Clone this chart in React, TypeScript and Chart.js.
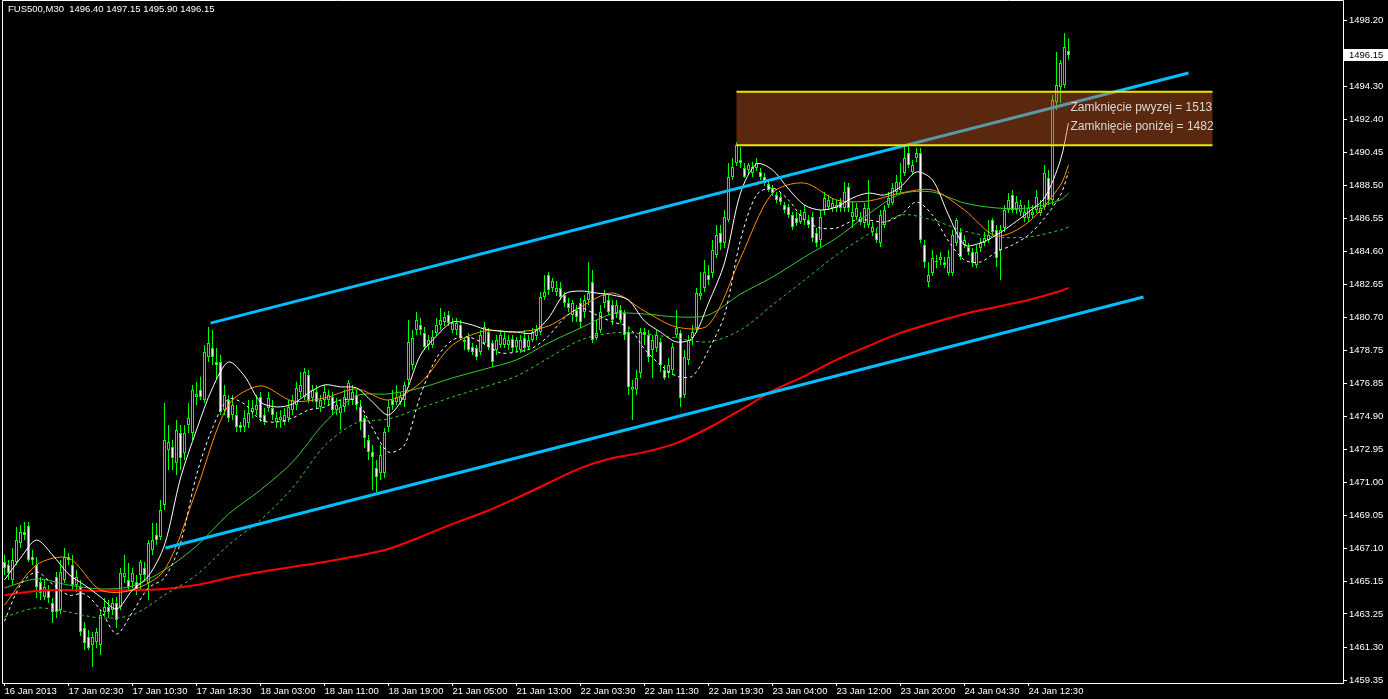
import React, { useEffect, useRef } from "react";
import { Chart, registerables } from "chart.js";

Chart.register(...registerables);

const chartTitle = "FUS500,M30  1496.40 1497.15 1495.90 1496.15";
const FONT = "'Liberation Sans', Arial, sans-serif";

// ---- 30-minute candles (bar index 0 .. 266) ----
const openPrices = [
  1466.31, 1466.13, 1465.25, 1466.31, 1467.43, 1468.08, 1468.43, 1466.60, 1466.13, 1465.13,
  1464.25, 1464.66, 1463.89, 1465.42, 1463.48, 1465.25, 1466.60, 1466.13, 1464.95, 1464.84,
  1462.42, 1461.89, 1461.42, 1461.60, 1461.42, 1463.36, 1463.66, 1463.48, 1463.89, 1463.66,
  1465.42, 1465.25, 1465.13, 1465.13, 1465.54, 1465.95, 1465.07, 1467.01, 1467.90, 1467.78,
  1469.66, 1472.90, 1473.08, 1472.13, 1473.90, 1472.72, 1474.38, 1473.90, 1476.03, 1476.45,
  1475.85, 1478.38, 1478.91, 1478.09, 1478.09, 1475.26, 1475.85, 1474.97, 1474.97, 1474.38,
  1474.26, 1474.50, 1475.14, 1475.26, 1476.03, 1474.97, 1475.38, 1475.38, 1474.55, 1474.67,
  1474.55, 1474.79, 1475.26, 1475.56, 1476.32, 1476.03, 1477.32, 1475.97, 1476.32, 1475.44,
  1475.85, 1475.85, 1476.03, 1475.26, 1475.08, 1475.44, 1475.85, 1475.85, 1476.14, 1475.44,
  1474.79, 1473.49, 1472.78, 1471.84, 1471.55, 1471.55, 1474.26, 1475.85, 1475.73, 1475.73,
  1475.85, 1477.03, 1477.91, 1479.97, 1480.27, 1479.80, 1479.09, 1479.09, 1479.80, 1480.27,
  1480.44, 1480.86, 1479.97, 1479.97, 1480.27, 1479.38, 1479.56, 1478.97, 1478.91, 1478.68,
  1479.21, 1479.85, 1479.21, 1478.80, 1479.09, 1479.09, 1479.09, 1479.44, 1478.97, 1478.80,
  1479.50, 1478.97, 1479.38, 1479.62, 1479.85, 1481.92, 1483.21, 1482.45, 1482.21, 1482.45,
  1482.03, 1481.56, 1480.86, 1481.15, 1481.56, 1481.03, 1481.74, 1482.80, 1479.50, 1479.97,
  1481.56, 1481.74, 1481.45, 1480.97, 1481.15, 1480.97, 1479.85, 1476.45, 1476.45, 1477.44,
  1479.85, 1479.68, 1478.80, 1478.91, 1479.27, 1477.62, 1477.44, 1477.62, 1479.68, 1479.80,
  1476.14, 1478.21, 1479.50, 1480.09, 1481.97, 1482.45, 1483.21, 1483.33, 1484.39, 1485.69,
  1485.10, 1486.45, 1488.99, 1489.81, 1489.99, 1489.51, 1489.40, 1489.22, 1489.51, 1489.28,
  1488.99, 1488.57, 1488.34, 1487.92, 1487.81, 1487.33, 1487.22, 1486.74, 1486.57, 1486.33,
  1486.45, 1486.45, 1486.63, 1485.69, 1485.27, 1487.04, 1487.22, 1487.16, 1487.16, 1487.51,
  1487.16, 1488.40, 1486.63, 1486.63, 1486.33, 1486.27, 1486.16, 1485.75, 1485.69, 1485.10,
  1486.16, 1487.33, 1487.45, 1488.10, 1488.22, 1489.22, 1490.40, 1489.28, 1490.10, 1490.40,
  1484.98, 1482.80, 1483.33, 1484.04, 1484.10, 1483.97, 1483.33, 1483.33, 1485.10, 1485.75,
  1484.98, 1484.86, 1484.57, 1483.80, 1484.80, 1485.10, 1485.27, 1486.45, 1485.86, 1484.68,
  1485.98, 1487.04, 1487.92, 1487.04, 1486.92, 1486.57, 1486.57, 1486.74, 1487.04, 1486.86,
  1487.22, 1488.93, 1487.63, 1493.40, 1494.29, 1494.40, 1496.40,
];
const highPrices = [
  1466.72, 1466.43, 1467.13, 1468.37, 1468.49, 1468.66, 1468.66, 1467.01, 1466.60, 1465.42,
  1465.25, 1464.95, 1464.19, 1465.72, 1466.43, 1467.13, 1466.84, 1466.72, 1465.84, 1465.25,
  1462.78, 1462.30, 1462.19, 1462.42, 1463.48, 1464.19, 1464.07, 1464.19, 1464.25, 1465.95,
  1466.72, 1466.25, 1465.95, 1465.54, 1466.43, 1466.31, 1467.60, 1468.61, 1468.61, 1469.96,
  1475.67, 1474.38, 1473.49, 1474.67, 1474.38, 1474.38, 1475.67, 1476.75, 1476.92, 1477.22,
  1479.09, 1480.15, 1479.97, 1478.91, 1478.50, 1476.74, 1476.14, 1476.14, 1475.56, 1474.55,
  1475.26, 1475.85, 1475.85, 1476.14, 1476.32, 1475.38, 1476.32, 1475.85, 1475.14, 1475.26,
  1475.38, 1475.85, 1476.14, 1476.92, 1477.50, 1477.74, 1477.62, 1476.74, 1476.74, 1476.14,
  1476.74, 1476.45, 1476.32, 1475.97, 1475.85, 1476.45, 1477.03, 1476.74, 1476.45, 1475.85,
  1474.97, 1473.79, 1473.20, 1472.31, 1473.20, 1474.20, 1475.85, 1476.45, 1476.74, 1476.32,
  1476.92, 1480.56, 1479.97, 1481.03, 1480.68, 1480.15, 1479.68, 1479.97, 1480.68, 1481.27,
  1481.03, 1481.09, 1480.68, 1480.68, 1480.56, 1479.56, 1479.80, 1479.21, 1479.09, 1479.97,
  1480.44, 1480.09, 1479.38, 1479.68, 1479.97, 1479.85, 1479.68, 1479.68, 1479.56, 1479.68,
  1479.97, 1479.68, 1480.09, 1480.27, 1482.21, 1483.21, 1483.38, 1483.03, 1482.86, 1482.80,
  1482.21, 1481.86, 1481.74, 1481.45, 1481.86, 1482.03, 1483.97, 1483.50, 1480.56, 1481.45,
  1482.33, 1482.03, 1481.74, 1481.74, 1481.45, 1481.15, 1480.09, 1477.03, 1477.62, 1480.09,
  1480.09, 1479.97, 1479.68, 1479.97, 1479.50, 1477.91, 1478.32, 1479.21, 1481.15, 1479.97,
  1478.80, 1479.68, 1480.27, 1482.45, 1483.38, 1484.10, 1483.80, 1485.27, 1486.16, 1486.16,
  1487.04, 1489.81, 1490.10, 1491.05, 1490.75, 1489.81, 1489.81, 1489.87, 1490.10, 1489.51,
  1489.22, 1488.81, 1488.51, 1488.10, 1488.04, 1487.51, 1487.39, 1486.92, 1486.92, 1487.04,
  1487.33, 1486.74, 1486.92, 1485.98, 1487.04, 1488.10, 1487.92, 1487.75, 1487.63, 1487.75,
  1488.69, 1488.63, 1487.51, 1487.45, 1486.92, 1487.45, 1488.81, 1486.33, 1485.98, 1487.04,
  1487.33, 1488.10, 1488.63, 1489.10, 1489.81, 1490.87, 1490.87, 1489.99, 1490.69, 1490.69,
  1485.27, 1483.97, 1484.68, 1484.39, 1484.57, 1484.27, 1484.68, 1485.86, 1486.57, 1485.98,
  1485.57, 1485.10, 1484.80, 1484.98, 1485.39, 1485.75, 1486.45, 1486.57, 1486.16, 1486.16,
  1487.33, 1488.04, 1488.22, 1487.86, 1487.63, 1487.33, 1487.63, 1487.33, 1488.22, 1487.63,
  1489.69, 1489.40, 1493.81, 1496.35, 1495.88, 1497.47, 1497.15,
];
const lowPrices = [
  1465.54, 1465.25, 1464.95, 1466.13, 1467.13, 1467.60, 1466.31, 1466.13, 1464.19, 1464.07,
  1464.07, 1463.89, 1462.72, 1463.01, 1463.25, 1465.07, 1466.13, 1464.66, 1464.54, 1461.95,
  1461.12, 1461.12, 1460.12, 1461.24, 1460.83, 1463.19, 1463.01, 1463.19, 1462.42, 1463.48,
  1465.07, 1464.66, 1464.78, 1464.36, 1464.66, 1465.25, 1464.07, 1466.72, 1467.31, 1467.60,
  1469.37, 1471.72, 1471.72, 1471.43, 1471.72, 1472.31, 1473.90, 1473.49, 1475.56, 1475.85,
  1475.67, 1478.09, 1477.91, 1477.03, 1474.97, 1474.97, 1474.55, 1474.67, 1473.96, 1473.96,
  1473.96, 1474.20, 1474.79, 1474.97, 1474.55, 1474.38, 1475.14, 1474.67, 1474.20, 1474.20,
  1474.38, 1474.55, 1474.97, 1475.26, 1475.97, 1475.85, 1475.67, 1475.73, 1475.38, 1475.14,
  1475.56, 1475.56, 1474.97, 1474.97, 1474.08, 1475.14, 1475.56, 1475.56, 1475.26, 1474.08,
  1473.02, 1472.31, 1470.55, 1470.43, 1471.13, 1471.25, 1473.96, 1475.26, 1475.56, 1475.56,
  1475.44, 1476.74, 1477.62, 1479.68, 1479.68, 1478.80, 1478.80, 1478.91, 1479.62, 1479.97,
  1480.21, 1480.21, 1479.80, 1479.68, 1479.38, 1478.80, 1478.68, 1478.50, 1478.21, 1478.50,
  1479.09, 1478.80, 1477.79, 1478.50, 1478.91, 1478.91, 1478.80, 1478.68, 1478.68, 1478.62,
  1478.68, 1478.80, 1479.27, 1479.38, 1479.68, 1481.74, 1482.03, 1482.21, 1481.97, 1481.74,
  1481.33, 1481.03, 1480.44, 1480.44, 1480.09, 1480.68, 1481.45, 1479.21, 1479.38, 1479.80,
  1481.27, 1480.86, 1480.27, 1480.68, 1480.38, 1479.38, 1476.14, 1474.67, 1476.14, 1477.15,
  1479.09, 1478.09, 1477.15, 1478.68, 1477.50, 1477.03, 1477.15, 1477.32, 1479.50, 1475.44,
  1475.97, 1477.91, 1479.09, 1479.85, 1481.74, 1482.21, 1482.62, 1483.03, 1484.21, 1484.68,
  1484.80, 1486.33, 1488.81, 1489.63, 1489.51, 1488.93, 1489.10, 1488.99, 1489.34, 1488.81,
  1488.46, 1488.10, 1487.87, 1487.45, 1487.33, 1486.86, 1486.57, 1485.86, 1486.10, 1486.21,
  1486.16, 1485.98, 1485.16, 1484.86, 1484.80, 1486.74, 1487.04, 1486.92, 1486.92, 1486.92,
  1486.92, 1486.92, 1485.98, 1486.45, 1486.16, 1485.98, 1485.98, 1485.51, 1485.10, 1484.86,
  1485.98, 1487.16, 1487.33, 1487.92, 1488.04, 1489.04, 1489.51, 1489.10, 1489.87, 1485.10,
  1483.62, 1482.50, 1483.15, 1483.62, 1483.80, 1483.62, 1483.15, 1483.15, 1484.92, 1484.10,
  1484.80, 1484.39, 1483.68, 1483.62, 1484.57, 1484.92, 1485.10, 1485.51, 1483.68, 1482.92,
  1485.75, 1486.86, 1486.86, 1486.80, 1486.69, 1486.33, 1486.33, 1486.57, 1486.86, 1486.69,
  1487.04, 1487.33, 1487.33, 1492.93, 1493.34, 1494.22, 1495.90,
];
const closePrices = [
  1465.95, 1465.66, 1466.43, 1467.60, 1468.08, 1467.90, 1466.43, 1466.43, 1464.84, 1464.48,
  1464.84, 1464.19, 1463.36, 1463.36, 1465.72, 1466.60, 1466.43, 1464.95, 1465.42, 1462.19,
  1461.54, 1461.24, 1461.89, 1462.19, 1463.19, 1463.66, 1463.36, 1463.89, 1462.89, 1465.66,
  1465.66, 1464.84, 1465.66, 1464.66, 1466.31, 1465.54, 1467.43, 1467.60, 1467.60, 1469.37,
  1473.49, 1473.37, 1472.43, 1474.08, 1472.43, 1473.90, 1474.79, 1476.45, 1476.21, 1476.03,
  1478.68, 1479.21, 1478.38, 1477.91, 1475.14, 1476.14, 1474.79, 1475.56, 1474.26, 1474.20,
  1474.79, 1475.08, 1475.38, 1475.56, 1474.79, 1474.55, 1475.97, 1474.97, 1474.79, 1474.85,
  1474.97, 1475.44, 1475.85, 1476.56, 1476.74, 1477.50, 1475.85, 1476.45, 1475.73, 1475.85,
  1476.32, 1476.14, 1475.26, 1475.56, 1475.44, 1476.03, 1476.86, 1476.32, 1475.56, 1474.55,
  1473.61, 1472.78, 1472.49, 1471.31, 1472.61, 1473.96, 1475.44, 1475.56, 1476.03, 1476.03,
  1476.74, 1479.27, 1479.50, 1480.56, 1479.97, 1478.97, 1479.38, 1479.56, 1480.27, 1480.56,
  1480.74, 1480.38, 1480.38, 1480.38, 1479.50, 1479.27, 1478.80, 1478.68, 1478.38, 1479.68,
  1480.15, 1478.97, 1478.09, 1479.38, 1479.68, 1479.50, 1479.38, 1478.91, 1479.38, 1479.38,
  1478.91, 1479.38, 1479.85, 1479.97, 1481.92, 1482.21, 1482.33, 1482.86, 1482.45, 1481.92,
  1481.56, 1481.27, 1481.56, 1480.74, 1480.44, 1481.74, 1482.15, 1479.38, 1479.80, 1481.03,
  1482.03, 1481.03, 1480.56, 1481.45, 1480.56, 1479.68, 1476.62, 1476.62, 1477.15, 1479.85,
  1479.68, 1478.38, 1479.38, 1479.68, 1477.91, 1477.15, 1477.91, 1478.97, 1480.09, 1475.97,
  1478.38, 1479.38, 1479.85, 1482.15, 1482.15, 1483.38, 1482.92, 1484.68, 1485.57, 1485.10,
  1486.63, 1488.99, 1489.57, 1490.87, 1489.81, 1488.99, 1489.69, 1489.57, 1489.81, 1488.99,
  1488.63, 1488.22, 1488.04, 1487.63, 1487.51, 1487.04, 1486.74, 1486.04, 1486.27, 1486.74,
  1486.92, 1486.16, 1485.39, 1485.10, 1486.63, 1487.75, 1487.63, 1487.45, 1487.33, 1487.16,
  1488.10, 1487.16, 1486.92, 1487.16, 1486.63, 1487.16, 1487.16, 1486.04, 1485.27, 1486.74,
  1487.04, 1487.75, 1488.34, 1488.69, 1488.69, 1490.10, 1489.69, 1489.69, 1490.40, 1485.27,
  1483.97, 1483.21, 1484.21, 1483.97, 1484.27, 1483.80, 1484.27, 1485.57, 1486.45, 1484.27,
  1485.27, 1484.57, 1483.92, 1484.57, 1485.10, 1485.39, 1485.57, 1485.75, 1484.21, 1485.86,
  1487.04, 1487.63, 1487.04, 1487.51, 1487.33, 1486.92, 1487.16, 1486.92, 1487.81, 1487.16,
  1489.22, 1487.63, 1493.52, 1494.40, 1495.70, 1496.64, 1496.15,
];

// ---- axis labels ----
const xTickBars = [0, 16, 32, 48, 64, 80, 96, 112, 128, 144, 160, 176, 192, 208, 224, 240, 256];
const xTickLabels = [
  "16 Jan 2013", "17 Jan 02:30", "17 Jan 10:30", "17 Jan 18:30", "18 Jan 03:00", "18 Jan 11:00",
  "18 Jan 19:00", "21 Jan 05:00", "21 Jan 13:00", "22 Jan 03:30", "22 Jan 11:30", "22 Jan 19:30",
  "23 Jan 04:00", "23 Jan 12:00", "23 Jan 20:00", "24 Jan 04:30", "24 Jan 12:30",
];
const yTickValues = [
  1459.35, 1461.3, 1463.25, 1465.15, 1467.1, 1469.05, 1471.0, 1472.95, 1474.9, 1476.85,
  1478.75, 1480.7, 1482.65, 1484.6, 1486.55, 1488.5, 1490.45, 1492.4, 1494.3, 1498.2,
];

// ---- moving averages ----
const maFastBars = [
  0, 4, 8, 12, 16, 20, 24, 28, 32, 36, 40, 44, 48, 52, 56, 60, 64, 68, 72, 76, 80, 84, 88, 92,
  96, 100, 104, 108, 112, 116, 120, 124, 128, 132, 136, 140, 144, 148, 152, 156, 160, 164, 168,
  172, 176, 180, 184, 188, 192, 196, 200, 204, 208, 212, 216, 220, 224, 228, 232, 236, 240, 244,
  248, 252, 256, 260, 264, 266,
];
const whiteSolidMA = [
  1465.25, 1466.54, 1467.6, 1466.72, 1465.6, 1464.95, 1464.25, 1463.54, 1464.66, 1465.48,
  1467.31, 1471.25, 1474.08, 1476.56, 1478.09, 1477.26, 1475.73, 1475.44, 1475.61, 1476.26,
  1476.74, 1476.62, 1476.56, 1475.73, 1474.97, 1476.14, 1478.5, 1479.62, 1480.44, 1480.33,
  1480.03, 1479.91, 1479.85, 1479.8, 1480.68, 1482.09, 1482.27, 1482.15, 1482.03, 1481.74,
  1480.5, 1479.85, 1479.27, 1479.5, 1481.56, 1483.92, 1488.04, 1489.75, 1489.4, 1488.28,
  1487.33, 1487.04, 1487.22, 1487.75, 1488.04, 1487.92, 1488.4, 1489.28, 1488.81, 1486.74,
  1484.98, 1485.1, 1485.57, 1486.21, 1486.92, 1487.75, 1489.99, 1492.17,
];
const whiteDashedMA = [
  1462.83, 1464.95, 1465.72, 1465.01, 1464.36, 1464.42, 1463.48, 1462.07, 1463.36, 1464.78,
  1465.37, 1467.43, 1471.43, 1474.2, 1475.91, 1475.61, 1474.67, 1474.55, 1474.79, 1475.26,
  1475.44, 1475.85, 1475.79, 1474.2, 1472.78, 1473.2, 1476.14, 1478.32, 1479.38, 1479.56,
  1479.15, 1478.62, 1478.68, 1478.91, 1479.62, 1480.68, 1481.27, 1480.86, 1480.44, 1480.15,
  1478.85, 1477.91, 1477.26, 1477.26, 1478.79, 1480.86, 1485.27, 1487.92, 1488.34, 1487.63,
  1486.45, 1485.98, 1485.98, 1486.39, 1486.45, 1486.33, 1486.74, 1487.51, 1486.74, 1485.21,
  1484.09, 1483.98, 1484.57, 1484.98, 1485.57, 1486.57, 1487.92, 1489.28,
];
const maSlowBars = [
  0, 8, 16, 24, 32, 40, 48, 56, 64, 72, 80, 88, 96, 104, 112, 120, 128, 136, 144, 152, 160,
  168, 176, 184, 192, 200, 208, 216, 224, 232, 240, 248, 256, 264, 266,
];
const orangeMA = [
  1463.77, 1466.13, 1466.54, 1464.66, 1464.66, 1465.84, 1470.55, 1475.56, 1476.68, 1475.79,
  1475.97, 1476.5, 1475.85, 1476.86, 1479.09, 1479.91, 1479.85, 1480.21, 1481.33, 1482.15,
  1481.09, 1480.15, 1480.27, 1484.21, 1488.04, 1488.63, 1487.63, 1487.57, 1488.04, 1488.22,
  1487.04, 1485.51, 1486.33, 1488.51, 1489.69,
];
const greenMA = [
  1464.78, 1465.31, 1464.95, 1464.72, 1464.89, 1465.84, 1467.25, 1469.13, 1470.55, 1472.19,
  1474.5, 1476.09, 1476.21, 1476.56, 1477.15, 1477.67, 1478.21, 1479.21, 1480.09, 1480.92,
  1480.92, 1480.74, 1480.86, 1482.09, 1483.09, 1484.27, 1485.39, 1486.8, 1487.98, 1488.1,
  1487.45, 1487.16, 1487.16, 1487.63, 1488.04,
];
const greenDashedMA = [
  1463.07, 1463.6, 1463.36, 1463.01, 1463.19, 1464.36, 1465.54, 1467.31, 1468.78, 1470.67,
  1473.14, 1474.5, 1474.73, 1475.38, 1476.03, 1476.62, 1477.26, 1478.32, 1479.38, 1479.8,
  1479.74, 1479.5, 1479.27, 1479.97, 1481.45, 1482.92, 1484.39, 1485.63, 1486.74, 1486.45,
  1485.8, 1485.45, 1485.45, 1485.86, 1486.04,
];
const redMA = [
  1464.36, 1464.6, 1464.66, 1464.6, 1464.66, 1464.72, 1464.95, 1465.37, 1465.72, 1466.02,
  1466.31, 1466.66, 1467.07, 1467.78, 1468.55, 1469.25, 1470.07, 1470.96, 1471.84, 1472.43,
  1472.78, 1473.31, 1474.2, 1475.26, 1476.38, 1477.26, 1478.21, 1479.03, 1479.8, 1480.38,
  1480.92, 1481.33, 1481.74, 1482.27, 1482.45,
];

// ---- drawn objects ----
const upperChannelBars = [51.5, 296];
const upperChannelPrices = [1480.38, 1495.11];
const lowerChannelBars = [40.25, 284.75];
const lowerChannelPrices = [1467.13, 1481.92];
const zoneBars = [183, 302];
const zonePrices = [1490.85, 1494.0];
const zoneTextBar = 266.5;
const zoneTextPrices = [1493.05, 1491.93];
const zoneTexts = ["Zamknięcie pwyzej = 1513", "Zamknięcie poniżej = 1482"];
const lastPrice = 1496.15;

const pts = (bars: number[], vals: number[]) => bars.map((b, k) => ({ x: b, y: vals[k] }));

const mtPlugin = {
  id: "mtPlugin",
  beforeDraw(chart: any) {
    const ctx = chart.ctx;
    ctx.save();
    ctx.fillStyle = "#000000";
    ctx.fillRect(0, 0, chart.width, chart.height);
    ctx.restore();
  },
  afterDatasetsDraw(chart: any) {
    const { ctx, chartArea, scales } = chart;
    const xs = scales.x;
    const ys = scales.y;
    ctx.save();
    ctx.beginPath();
    ctx.rect(chartArea.left, chartArea.top, chartArea.right - chartArea.left, chartArea.bottom - chartArea.top);
    ctx.clip();
    const x0 = xs.getPixelForValue(zoneBars[0]);
    const x1 = xs.getPixelForValue(zoneBars[1]);
    const yTop = ys.getPixelForValue(zonePrices[1]);
    const yBot = ys.getPixelForValue(zonePrices[0]);
    ctx.fillStyle = "rgba(219,97,37,0.41)";
    ctx.fillRect(x0, yTop, x1 - x0, yBot - yTop);
    ctx.strokeStyle = "#e8e800";
    ctx.lineWidth = 2;
    ctx.beginPath();
    ctx.moveTo(x0, yTop);
    ctx.lineTo(x1, yTop);
    ctx.moveTo(x0, yBot);
    ctx.lineTo(x1, yBot);
    ctx.stroke();
    ctx.fillStyle = "#dcd6d2";
    ctx.font = "12px " + FONT;
    ctx.textAlign = "left";
    ctx.textBaseline = "middle";
    const tx = xs.getPixelForValue(zoneTextBar);
    zoneTexts.forEach((t, k) => ctx.fillText(t, tx, ys.getPixelForValue(zoneTextPrices[k])));
    ctx.restore();
  },
  afterDraw(chart: any) {
    const { ctx, chartArea, scales } = chart;
    ctx.save();
    // frame
    ctx.strokeStyle = "#ffffff";
    ctx.lineWidth = 1;
    const l = chartArea.left - 0.5;
    const r = chartArea.right + 0.5;
    const t = chartArea.top + 0.5;
    const b = chartArea.bottom + 0.5;
    ctx.beginPath();
    ctx.moveTo(l, t);
    ctx.lineTo(r, t);
    ctx.lineTo(r, b);
    ctx.lineTo(l, b);
    ctx.closePath();
    ctx.stroke();
    // title
    ctx.fillStyle = "#ffffff";
    ctx.font = "9.5px " + FONT;
    ctx.textAlign = "left";
    ctx.textBaseline = "middle";
    ctx.fillText(chartTitle, 8, 9);
    // current price label
    const py = Math.round(scales.y.getPixelForValue(lastPrice));
    ctx.fillStyle = "#ffffff";
    ctx.fillRect(chartArea.right + 1, py - 6, chart.width - chartArea.right - 1, 12);
    ctx.fillStyle = "#000000";
    ctx.fillText(lastPrice.toFixed(2), chartArea.right + 6, py + 0.5);
    ctx.restore();
  },
};

export default function App() {
  const canvasRef = useRef<HTMLCanvasElement | null>(null);

  useEffect(() => {
    document.body.style.margin = "0";
    document.body.style.background = "#000";
    const canvas = canvasRef.current;
    if (!canvas) return;

    const wickData = highPrices.map((h, i) => ({ x: i, y: [lowPrices[i], h] }));
    const bodyData = openPrices.map((o, i) => ({ x: i, y: [o, closePrices[i]] }));
    const bodyFill = openPrices.map((o, i) => (closePrices[i] < o ? "#ffffff" : "#000000"));

    const lineBase = { type: "line" as const, pointRadius: 0, borderWidth: 1, tension: 0.3, fill: false };

    const chart = new Chart(canvas, {
      type: "bar",
      data: {
        datasets: [
          { ...lineBase, label: "upper channel", data: pts(upperChannelBars, upperChannelPrices), borderColor: "#00bfff", borderWidth: 3, tension: 0, order: 0 },
          { ...lineBase, label: "lower channel", data: pts(lowerChannelBars, lowerChannelPrices), borderColor: "#00bfff", borderWidth: 3, tension: 0, order: 0 },
          { ...lineBase, label: "MA white", data: pts(maFastBars, whiteSolidMA), borderColor: "#ffffff", order: 1 },
          { ...lineBase, label: "MA white dashed", data: pts(maFastBars, whiteDashedMA), borderColor: "#ffffff", borderDash: [3, 3], order: 1 },
          { ...lineBase, label: "MA orange", data: pts(maSlowBars, orangeMA), borderColor: "#ff8c00", order: 1 },
          { ...lineBase, label: "MA green", data: pts(maSlowBars, greenMA), borderColor: "#32cd32", order: 1 },
          { ...lineBase, label: "MA green dashed", data: pts(maSlowBars, greenDashedMA), borderColor: "#32cd32", borderDash: [3, 3], order: 1 },
          { ...lineBase, label: "MA red", data: pts(maSlowBars, redMA), borderColor: "#ff0000", borderWidth: 2, order: 1 },
          {
            type: "bar", label: "bodies", data: bodyData as any, backgroundColor: bodyFill, borderColor: "#00ff00",
            borderWidth: 1, borderSkipped: false, barThickness: 3, grouped: false, inflateAmount: 0, order: 2,
          } as any,
          {
            type: "bar", label: "wicks", data: wickData as any, backgroundColor: "#00ff00", borderWidth: 0,
            barThickness: 1, grouped: false, inflateAmount: 0, order: 3,
          } as any,
        ],
      },
      options: {
        responsive: false,
        animation: false,
        devicePixelRatio: 1,
        events: [],
        layout: { padding: { left: 3, top: 0, right: 0, bottom: 0 } },
        plugins: { legend: { display: false }, tooltip: { enabled: false }, title: { display: false } },
        scales: {
          x: {
            type: "linear",
            min: -0.375,
            max: 334.625,
            offset: false,
            bounds: "data",
            grid: { display: true, drawOnChartArea: false, drawTicks: true, tickLength: 3, color: "#ffffff", offset: false },
            border: { display: false },
            ticks: {
              color: "#ffffff",
              font: { family: FONT, size: 9.5 },
              padding: 0,
              align: "start",
              autoSkip: false,
              maxRotation: 0,
              minRotation: 0,
              callback: (v: any) => {
                const k = xTickBars.indexOf(Number(v));
                return k >= 0 ? xTickLabels[k] : "";
              },
            },
            afterBuildTicks: (s: any) => {
              s.ticks = xTickBars.map((v) => ({ value: v }));
            },
            afterFit: (s: any) => {
              s.height = 16;
              s.paddingLeft = 0;
              s.paddingRight = 0;
              s.paddingTop = 0;
              s.paddingBottom = 0;
            },
          },
          y: {
            type: "linear",
            position: "right",
            min: 1459.18,
            max: 1499.41,
            beginAtZero: false,
            bounds: "data",
            grid: { display: true, drawOnChartArea: false, drawTicks: true, tickLength: 4, color: "#ffffff" },
            border: { display: false },
            ticks: {
              color: "#ffffff",
              font: { family: FONT, size: 9.5 },
              padding: 2,
              autoSkip: false,
              callback: (v: any) => Number(v).toFixed(2),
            },
            afterBuildTicks: (s: any) => {
              s.ticks = yTickValues.map((v) => ({ value: v }));
            },
            afterFit: (s: any) => {
              s.width = 45;
              s.paddingLeft = 0;
              s.paddingRight = 0;
              s.paddingTop = 0;
              s.paddingBottom = 0;
            },
          },
        },
      } as any,
      plugins: [mtPlugin],
    } as any);

    return () => chart.destroy();
  }, []);

  return (
    <div style={{ width: 1388, height: 699, background: "#000" }}>
      <canvas ref={canvasRef} width={1388} height={699} style={{ display: "block", width: 1388, height: 699 }} />
    </div>
  );
}
